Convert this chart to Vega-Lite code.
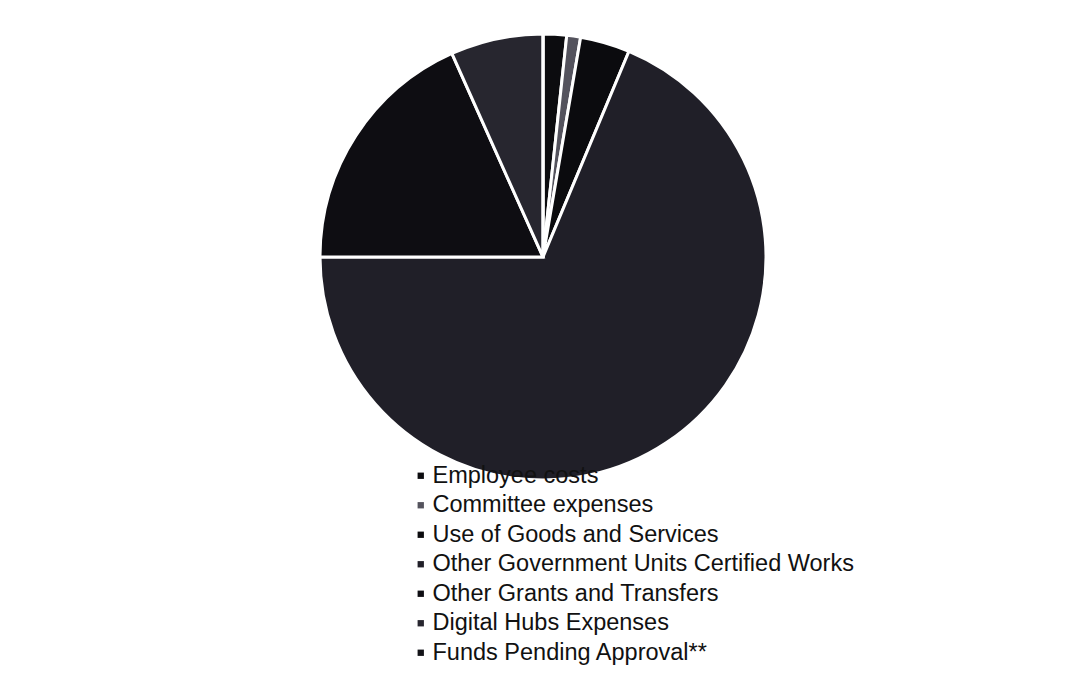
{
  "$schema": "https://vega.github.io/schema/vega-lite/v6.json",
  "autosize": {"type": "none"},
  "width": 446,
  "height": 446,
  "padding": {"left": 320, "top": 34, "right": 299, "bottom": 202},
  "background": "white",
  "data": {
    "values": [
      {"Category": "Employee costs", "Share": 1.7},
      {"Category": "Committee expenses", "Share": 1.0},
      {"Category": "Use of Goods and Services", "Share": 3.6},
      {"Category": "Other Government Units Certified Works", "Share": 68.7},
      {"Category": "Other Grants and Transfers", "Share": 18.3},
      {"Category": "Digital Hubs Expenses", "Share": 6.7},
      {"Category": "Funds Pending Approval**", "Share": 0}
    ]
  },
  "transform": [{"window": [{"op": "row_number", "as": "rank"}]}],
  "mark": {"type": "arc", "stroke": "white", "strokeWidth": 3},
  "encoding": {
    "theta": {"field": "Share", "type": "quantitative", "stack": true},
    "order": {"field": "rank", "type": "quantitative", "sort": "ascending"},
    "color": {
      "field": "Category",
      "type": "nominal",
      "scale": {
        "domain": ["Employee costs", "Committee expenses", "Use of Goods and Services", "Other Government Units Certified Works", "Other Grants and Transfers", "Digital Hubs Expenses", "Funds Pending Approval**"],
        "range": ["#0c0c0f", "#54535d", "#0b0b0e", "#201f28", "#0e0d12", "#27262f", "#131318"]
      },
      "legend": {
        "orient": "none",
        "legendX": 89,
        "legendY": 430,
        "title": null,
        "symbolType": "square",
        "symbolSize": 40,
        "symbolStrokeWidth": 0,
        "labelFont": "Liberation Sans",
        "labelFontSize": 23.5,
        "labelColor": "#111111",
        "labelOffset": 0,
        "labelLimit": 600,
        "rowPadding": 4.5,
        "zindex": -1
      }
    }
  },
  "config": {"view": {"stroke": null}}
}
